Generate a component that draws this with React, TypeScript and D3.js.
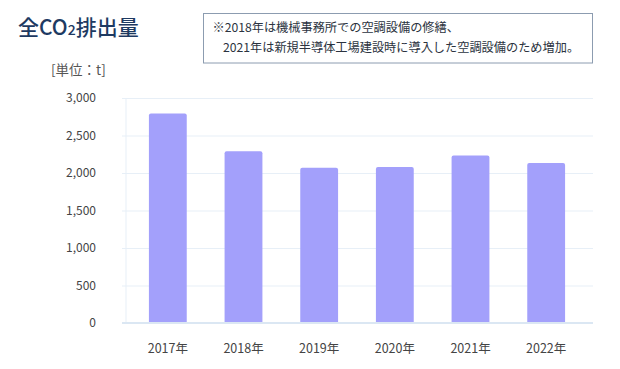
import React, { useEffect, useRef } from 'react';
import * as d3 from 'd3';

const years = ['2017年', '2018年', '2019年', '2020年', '2021年', '2022年'];
const emissions = [2795, 2290, 2070, 2080, 2235, 2135];
const yTicks = [0, 500, 1000, 1500, 2000, 2500, 3000];
const noteLines = [
  '※2018年は機械事務所での空調設備の修繕、',
  '2021年は新規半導体工場建設時に導入した空調設備のため増加。',
];

const W = 620;
const H = 369;
const FONT = '"Noto Sans CJK JP", "Noto Sans", sans-serif';

export default function App() {
  const ref = useRef<SVGSVGElement>(null);

  useEffect(() => {
    const svg = d3.select(ref.current);
    svg.selectAll('*').remove();

    const x = d3.scaleBand<string>()
      .domain(years)
      .range([130, 584])
      .paddingInner(0.5)
      .paddingOuter(0.25);

    const y = d3.scaleLinear().domain([0, 3000]).range([323, 98]);

    // title
    const title = svg.append('text')
      .attr('x', 18).attr('y', 35)
      .attr('font-family', FONT).attr('font-size', 21).attr('font-weight', 500)
      .attr('fill', '#1e3a62');
    title.append('tspan').text('全CO');
    title.append('tspan').attr('font-size', 14).text('2');
    title.append('tspan').text('排出量');

    // note box
    svg.append('rect')
      .attr('x', 203.5).attr('y', 13.5).attr('width', 389).attr('height', 49.5)
      .attr('fill', '#fff').attr('stroke', '#8c9cb0').attr('stroke-width', 1);
    svg.append('g')
      .selectAll('text')
      .data(noteLines)
      .join('text')
      .attr('x', (d, i) => (i === 0 ? 212.5 : 223))
      .attr('y', (d, i) => 32 + i * 19.5)
      .attr('font-family', FONT).attr('font-size', 12.2)
      .attr('fill', '#2b3340')
      .text(d => d);

    // unit
    svg.append('text')
      .attr('x', 51).attr('y', 74.5)
      .attr('font-family', FONT).attr('font-size', 13.5)
      .attr('fill', '#555')
      .text('[単位：t]');

    // grid
    svg.append('g')
      .attr('transform', 'translate(122,0)')
      .call(d3.axisLeft(y).tickValues(yTicks).tickSize(-471).tickFormat(() => ''))
      .call(g => g.select('.domain').remove())
      .call(g => g.selectAll('line').attr('stroke', '#e7eff7'));

    svg.append('line')
      .attr('x1', 126).attr('x2', 126).attr('y1', 98).attr('y2', 323)
      .attr('stroke', '#e7eff7');

    svg.append('line')
      .attr('x1', 122).attr('x2', 593).attr('y1', y(0)).attr('y2', y(0))
      .attr('stroke', '#dbe7f3').attr('stroke-width', 2);

    // y labels
    svg.append('g')
      .attr('transform', 'translate(96,0)')
      .call(d3.axisLeft(y).tickValues(yTicks).tickSize(0).tickPadding(0).tickFormat(d3.format(',')))
      .call(g => g.select('.domain').remove())
      .call(g => g.selectAll('text')
        .attr('font-family', FONT).attr('font-size', 12).attr('fill', '#444'));

    // bars
    svg.append('g')
      .selectAll('path')
      .data(emissions)
      .join('path')
      .attr('fill', '#a3a0fb')
      .attr('d', (d, i) => {
        const x0 = x(years[i])!;
        const w = x.bandwidth();
        const top = y(d);
        const bot = y(0) - 1;
        const r = 2;
        return `M${x0},${bot}V${top + r}Q${x0},${top} ${x0 + r},${top}H${x0 + w - r}Q${x0 + w},${top} ${x0 + w},${top + r}V${bot}Z`;
      });

    // x labels
    svg.append('g')
      .attr('transform', 'translate(0,344)')
      .call(d3.axisBottom(x).tickSize(0).tickPadding(0))
      .call(g => g.select('.domain').remove())
      .call(g => g.selectAll('text')
        .attr('font-family', FONT).attr('font-size', 12.5).attr('fill', '#444'));
  }, []);

  return <svg ref={ref} width={W} height={H} style={{ display: 'block', margin: -8 }} />;
}
